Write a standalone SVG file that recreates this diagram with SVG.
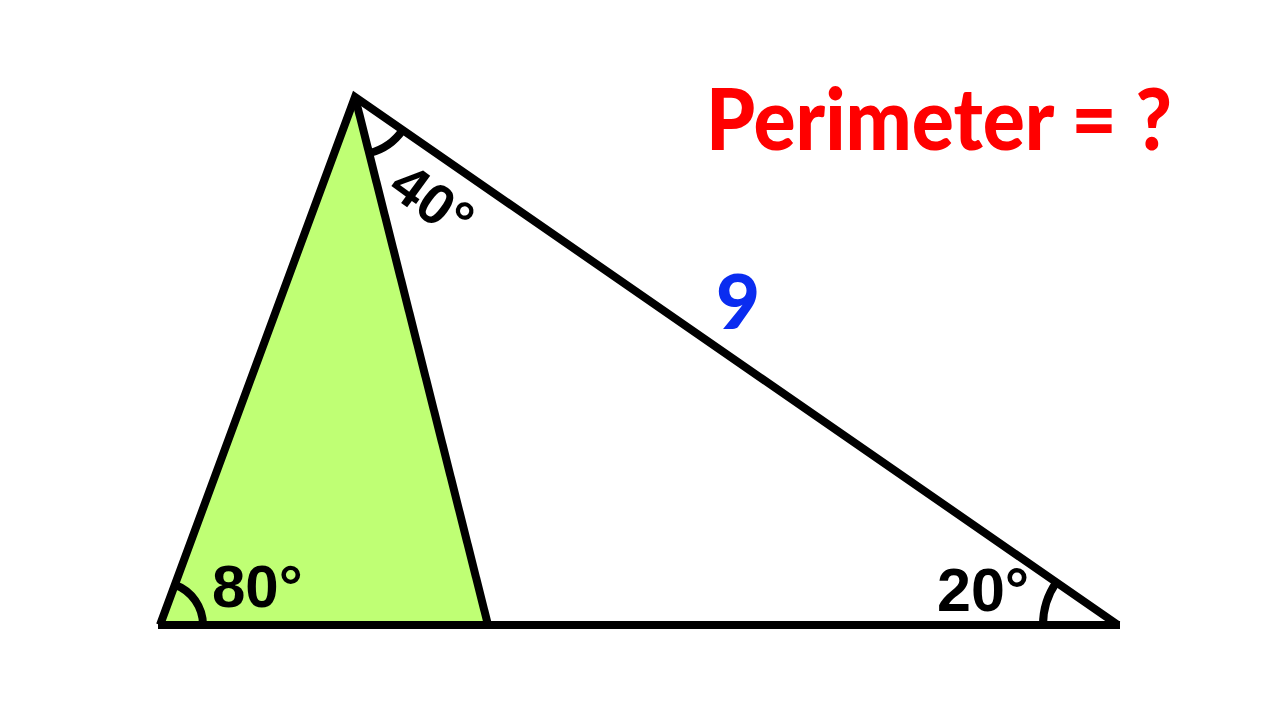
<svg xmlns="http://www.w3.org/2000/svg" width="1280" height="720" viewBox="0 0 1280 720">
<style>
.ln{stroke:#000;stroke-width:8;fill:none;stroke-linecap:butt;stroke-linejoin:miter}
.ang{font-family:"Liberation Sans",Arial,sans-serif;font-weight:bold;fill:#000}
</style>
<rect width="1280" height="720" fill="#fff"/>
<g id="shaded">
<polygon points="160,625 355,97 488,625" fill="#bfff74"/>
</g>
<g id="connectors">
<polyline class="ln" points="160,625 355,97 1118,625" stroke-linejoin="miter"/>
<line class="ln" x1="158" y1="625" x2="1120" y2="625"/>
<line class="ln" x1="355" y1="97" x2="488" y2="625"/>
<path class="ln" d="M203,625 A43,43 0 0 0 174.9,584.7"/>
<path class="ln" d="M1043,625 A75,75 0 0 1 1056.3,582.3"/>
<path class="ln" d="M369.2,153.2 A58,58 0 0 0 402.7,130"/>
</g>
<g id="labels">
<text class="ang" x="212" y="607" font-size="60">80°</text>
<text class="ang" x="937" y="611" font-size="61">20°</text>
<text class="ang" font-size="57" transform="translate(386,192) rotate(36)">40°</text>
<text x="716" y="329" font-family="Lato,sans-serif" font-weight="900" font-size="76" fill="#0a2cf0">9</text>
<text x="706" y="150" font-family="Lato,sans-serif" font-weight="900" font-size="86" fill="#f00" textLength="466" lengthAdjust="spacingAndGlyphs">Perimeter = ?</text>
</g>
</svg>
